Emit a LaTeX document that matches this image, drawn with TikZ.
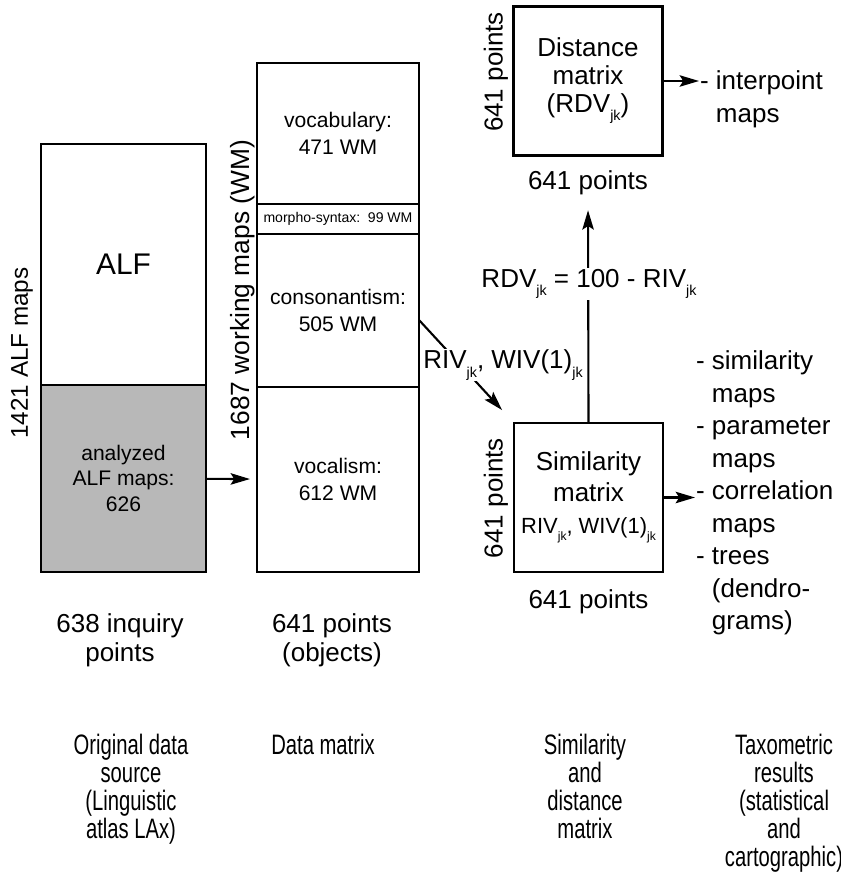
\documentclass[tikz,border=0pt]{standalone}
\usepackage{fontspec}
\setmainfont{Liberation Sans}
\newfontfamily\narrowfont[FakeStretch=0.72]{Liberation Sans}
\usetikzlibrary{arrows.meta,positioning}
\newcommand{\lowidx}[1]{\raisebox{-0.6ex}{\scalebox{0.55}{#1}}}
\newcommand{\fsz}[2]{\fontsize{#1}{#2}\selectfont}

\begin{document}
\begin{tikzpicture}[x=0.02cm, y=-0.02cm, line width=1.2pt,
    box/.style={draw, rectangle, inner sep=0pt, outer sep=0pt, align=center, font=\fsz{12}{15.4}},
    txt/.style={inner sep=0pt, align=center, font=\fsz{14.8}{16.5}},
    arr/.style={-{Stealth[length=11pt, width=6.5pt, inset=2pt]}}]
    \useasboundingbox (0,0) rectangle (841,875);

    % original data source
    \node[box, minimum width=3.3cm, minimum height=4.82cm, font=\fsz{17}{20}] (alf) at (123.5,264.5) {ALF};
    \node[box, fill=black!28, minimum width=3.3cm, minimum height=3.74cm, font=\fsz{12}{14.3},
        below=0pt of alf] (anal) {analyzed\\ALF maps:\\626};
    \node[txt, rotate=90, font=\fsz{13.8}{16}] (alfmaps) at (22,353) {1421 ALF maps};

    % data matrix
    \node[box, minimum width=3.24cm, minimum height=2.82cm] (vocab) at (338,133.5) {vocabulary:\\471 WM};
    \node[box, minimum width=3.24cm, minimum height=0.6cm, font=\fsz{8}{9}, below=0pt of vocab] (morph) {morpho-syntax:\, 99 WM};
    \node[box, minimum width=3.24cm, minimum height=3.06cm, below=0pt of morph] (cons) {consonantism:\\505 WM};
    \node[box, minimum width=3.24cm, minimum height=3.7cm, below=0pt of cons] (voc) {vocalism:\\612 WM};
    \node[txt, rotate=90, font=\fsz{15}{16}] (wmaps) at (243,290) {1687 working maps (WM)};

    % similarity and distance
    \node[box, minimum width=2.98cm, minimum height=2.98cm, font=\fsz{14.8}{17.6}] (sim) at (588.5,497.5)
        {Similarity\\matrix\\[1pt]{\fsz{12.5}{14}RIV\lowidx{jk}, WIV(1)\lowidx{jk}}};
    \node[box, minimum width=2.98cm, minimum height=2.98cm, font=\fsz{14.8}{17.6}] (dist) at (588,81)
        {\raisebox{-4pt}{\shortstack{Distance\\[2pt]matrix\\[2pt](RDV\lowidx{jk})}}};
    \node[txt] (simlow) at (588.5,602) {641 points};
    \node[txt] (distlow) at (588,183) {641 points};
    \node[txt, rotate=90] (simside) at (496,498) {641 points};
    \node[txt, rotate=90] (distside) at (496,72) {641 points};

    % taxometric results
    \node[txt, anchor=north west, align=left, font=\fsz{14.8}{18.5}] (interp) at (699,70)
        {- interpoint\\\phantom{- }maps};
    \node[txt, anchor=north west, align=left, font=\fsz{14.8}{18.5}] (results) at (695,350)
        {- similarity\\\phantom{- }maps\\- parameter\\\phantom{- }maps\\- correlation\\\phantom{- }maps\\
         - trees\\\phantom{- }(dendro-\\\phantom{- }grams)};

    % counts under the boxes
    \node[txt, anchor=north] (inquiry) at (120,613) {638 inquiry\\points};
    \node[txt, anchor=north] (objects) at (332,613) {641 points\\(objects)};

    % column captions
    \node[txt, anchor=north, font=\narrowfont\fsz{16}{16}] (capsrc) at (131,733)
        {Original data\\source\\(Linguistic\\atlas LAx)};
    \node[txt, anchor=north, font=\narrowfont\fsz{16}{16}] (capdata) at (323,733) {Data matrix};
    \node[txt, anchor=north, font=\narrowfont\fsz{16}{16}] (capsim) at (585,733)
        {Similarity\\and\\distance\\matrix};
    \node[txt, anchor=north, font=\narrowfont\fsz{16}{16}] (captax) at (784,733)
        {Taxometric\\results\\(statistical\\and\\cartographic)};

    % connectors
    \coordinate (diagfrom) at (419,320);
    \draw[arr, shorten >=4pt] (anal) -- (voc);
    \draw[arr] (dist.east) -- (dist.east -| interp.west);
    \draw[arr] (sim.east) -- (sim.east -| results.west);
    \draw[arr, shorten >=8pt] (sim.north) -- (distlow.south);
    \draw[arr, shorten >=10pt] (diagfrom) -- (sim.north west);
    \node[txt, fill=white, inner sep=1pt] (rdv) at (589,284) {RDV\lowidx{jk} = 100 - RIV\lowidx{jk}};
    \node[txt, fill=white, inner sep=0.5pt] (riv) at (503,365) {RIV\lowidx{jk}, WIV(1)\lowidx{jk}};
\end{tikzpicture}
\end{document}
